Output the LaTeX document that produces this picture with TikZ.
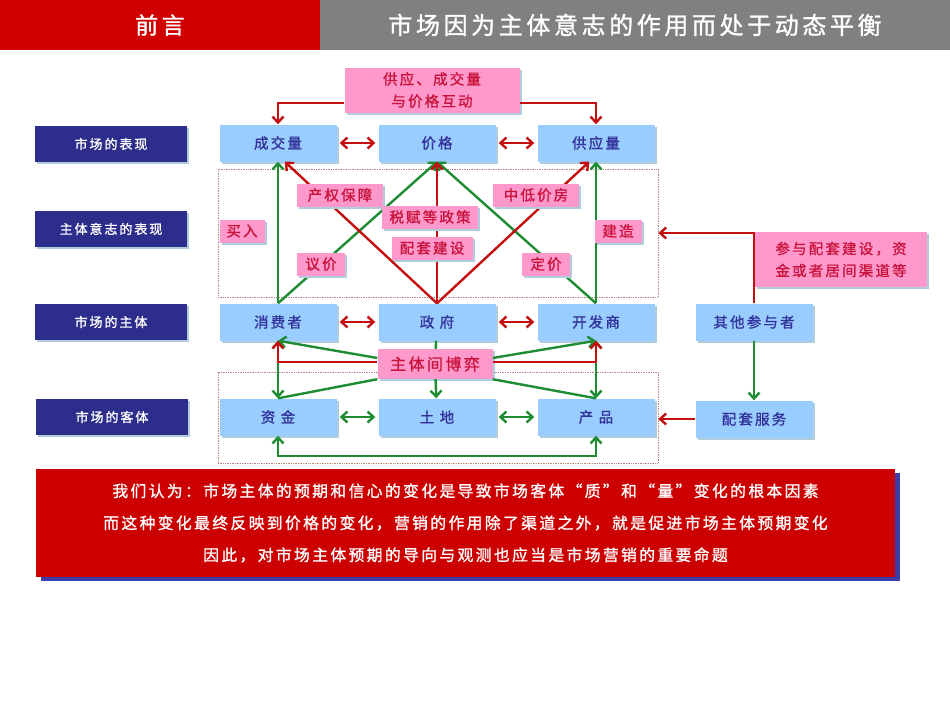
\documentclass[tikz,border=0pt]{standalone}
\usepackage{fontspec}
\setmainfont{Noto Sans CJK SC}[LetterSpace = 15, FakeBold = 1.2]
\usetikzlibrary{arrows.meta, shadows}

\definecolor{headred}{RGB}{208,0,0}
\definecolor{headgray}{RGB}{128,128,128}
\definecolor{navy}{RGB}{45,45,140}
\definecolor{boxblue}{RGB}{153,204,255}
\definecolor{textblue}{RGB}{51,51,153}
\definecolor{tagpink}{RGB}{255,153,204}
\definecolor{textred}{RGB}{200,20,60}
\definecolor{linered}{RGB}{195,15,15}
\definecolor{linegreen}{RGB}{30,140,50}
\definecolor{shadeblue}{RGB}{175,205,220}
\definecolor{zonered}{RGB}{190,130,130}
\definecolor{notered}{RGB}{204,0,0}
\definecolor{noteshade}{RGB}{60,60,170}

\begin{document}
\begin{tikzpicture}[
    x = 1pt, y = -1pt,
    >= {Straight Barb[length = 6pt, width = 11pt]},
    link/.style = {line width = 2.4pt},
    red link/.style = {link, linered},
    green link/.style = {link, linegreen},
    shaded/.style = {drop shadow = {shadow xshift = 2pt,
        shadow yshift = -2pt, fill = shadeblue, opacity = 1}},
    header/.style = {text = white, inner sep = 0,
      minimum height = 50pt},
    level/.style = {shaded, fill = navy, text = white,
      font = \fontsize{13}{13}\selectfont, inner sep = 0,
      minimum width = 152pt, minimum height = 36pt},
    box/.style = {shaded, fill = boxblue, text = textblue,
      font = \fontsize{14.5}{14.5}\selectfont, inner sep = 0,
      minimum width = 117pt, minimum height = 37pt},
    tag/.style = {shaded, fill = tagpink, text = textred,
      font = \fontsize{14.5}{22}\selectfont, inner sep = 0,
      align = center, minimum height = 23pt},
    zone/.style = {draw = zonered, densely dotted, line width = 0.7pt,
      inner sep = 0, minimum width = 440pt},
    ]

    \useasboundingbox (0, 0) rectangle (950, 713);

    % title bar
    \node at (160, 25) [header, fill = headred, minimum width = 320pt,
    font = \fontsize{23}{23}\selectfont, name = preface] {前言};
    \node at (635, 25) [header, fill = headgray, minimum width = 630pt,
    font = \fontsize{24}{24}\selectfont, name = title]
    {市场因为主体意志的作用而处于动态平衡};

    % levels
    \node at (111, 144) [level, name = L_show] {市场的表现};
    \node at (111, 229) [level, name = L_will] {主体意志的表现};
    \node at (111, 322) [level, name = L_subject] {市场的主体};
    \node at (112, 417) [level, name = L_object] {市场的客体};

    \node at (438, 233) [zone, minimum height = 128pt, name = willzone] {};
    \node at (438, 417.5) [zone, minimum height = 91pt, name = objzone] {};

    \node at (432, 90)
    [tag, minimum width = 175pt, minimum height = 45pt, name = interact]
    {供应、成交量\\与价格互动};

    \node at (278, 143) [box, name = volume] {成交量};
    \node at (437, 143) [box, name = price] {价格};
    \node at (596, 143) [box, name = supply] {供应量};

    \node at (278, 322) [box, name = consumer] {消费者};
    \node at (437, 322) [box, name = government] {政 府};
    \node at (596, 322) [box, name = developer] {开发商};
    \node at (754, 322) [box, name = others] {其他参与者};

    \node at (278, 417) [box, name = funds] {资 金};
    \node at (437, 417) [box, name = land] {土 地};
    \node at (596, 417) [box, name = product] {产 品};
    \node at (754, 419) [box, name = service] {配套服务};

    \draw [->, red link] ([yshift = 10pt]interact.south west) -| (volume);
    \draw [->, red link] ([yshift = 10pt]interact.south east) -| (supply);

    \draw [<->, red link, shorten <= 3pt, shorten >= 3pt] (volume) -- (price);
    \draw [<->, red link, shorten <= 3pt, shorten >= 3pt] (price) -- (supply);

    % will of the subjects
    \draw [->, green link] (consumer) -- (volume);
    \draw [->, green link] (consumer.north) -- (price.south);
    \draw [->, green link] (developer.north) -- (price.south);
    \draw [->, green link] (developer) -- (supply);
    \draw [->, red link] (government.north) -- (volume.290);
    \draw [->, red link] (government) -- (price);
    \draw [->, red link] (government.north) -- (supply.250);

    \draw [<->, red link, shorten <= 3pt, shorten >= 3pt]
    (consumer) -- (government);
    \draw [<->, red link, shorten <= 3pt, shorten >= 3pt]
    (government) -- (developer);

    \node at (435, 364)
    [tag, font = \fontsize{16}{16}\selectfont, minimum width = 115pt,
    minimum height = 30pt, name = game] {主体间博弈};

    % game between the subjects
    \draw [green link] (government) -- (game);
    \draw [->, green link] (game) -- (land);
    \draw [<->, green link] (consumer) -- (funds);
    \draw [<->, green link] (developer) -- (product);
    \draw [->, green link] ([yshift = 6pt]game.west) -- (consumer.south);
    \draw [->, green link] ([yshift = 6pt]game.east) -- (developer.south);
    \draw [green link] (game.south west) -- (funds.north);
    \draw [green link] (game.south east) -- (product.north);
    \draw [->, red link] ([yshift = 2pt]game.west) -| (consumer);
    \draw [->, red link] ([yshift = 2pt]game.east) -| (developer);

    \draw [<->, green link, shorten <= 3pt, shorten >= 3pt] (funds) -- (land);
    \draw [<->, green link, shorten <= 3pt, shorten >= 3pt] (land) -- (product);
    \draw [<->, green link] (funds.south) -- ++(0, 20) -| (product.south);

    % other participants
    \draw [->, red link] (others) |- (willzone);
    \draw [->, green link] (others) -- (service);
    \draw [->, red link] (service) -- (service -| objzone.east);

    \node at (242, 231) [tag, minimum width = 45pt, name = buy] {买入};
    \node at (340, 195) [tag, minimum width = 86pt, name = property] {产权保障};
    \node at (430, 217) [tag, minimum width = 96pt, name = tax] {税赋等政策};
    \node at (536, 195) [tag, minimum width = 86pt, name = lowprice] {中低价房};
    \node at (618, 231) [tag, minimum width = 47pt, name = build] {建造};
    \node at (321, 264) [tag, minimum width = 48pt, name = bargain] {议价};
    \node at (432, 248) [tag, minimum width = 81pt, name = facility] {配套建设};
    \node at (546, 264) [tag, minimum width = 48pt, name = pricing] {定价};

    \node at (841, 259.5)
    [tag, minimum width = 172pt, minimum height = 55pt, name = join]
    {参与配套建设，资\\金或者居间渠道等};

    % conclusion
    \node at (465.5, 523)
    [fill = notered, text = white, align = center, inner sep = 0,
    minimum width = 859pt, minimum height = 108pt,
    font = \fontsize{15.8}{32}\selectfont,
    drop shadow = {shadow xshift = 5pt, shadow yshift = -4pt,
      fill = noteshade, opacity = 1}, name = conclusion]
    {我们认为：市场主体的预期和信心的变化是导致市场客体“质”和“量”变化的根本因素\\
      而这种变化最终反映到价格的变化，营销的作用除了渠道之外，就是促进市场主体预期变化\\
      因此，对市场主体预期的导向与观测也应当是市场营销的重要命题};
  \end{tikzpicture}
\end{document}
